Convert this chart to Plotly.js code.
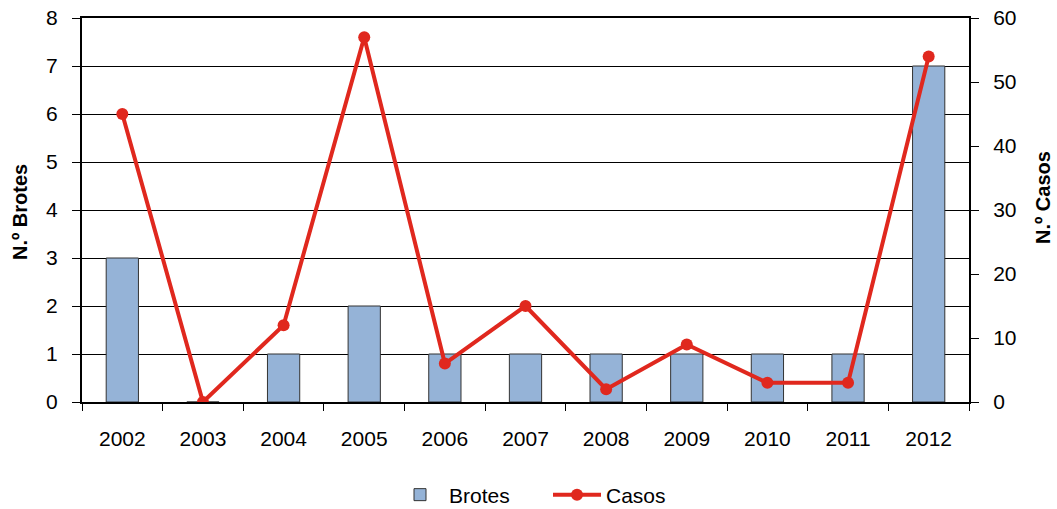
<!DOCTYPE html>
<html><head><meta charset="utf-8">
<script src="https://cdn.plot.ly/plotly-3.0.1.min.js"></script>
<style>html,body{margin:0;padding:0;background:#fff}#chart{width:1057px;height:509px}</style>
</head><body><div id="chart"></div>
<script>
const years = ['2002','2003','2004','2005','2006','2007','2008','2009','2010','2011','2012'];
const brotes = [3,0,1,2,1,1,1,1,1,1,7];
const casos = [45,0,12,57,6,15,2,9,3,3,54];
const leftTicks = [0,1,2,3,4,5,6,7,8];
const rightTicks = [0,10,20,30,40,50,60];

const fam = 'Liberation Sans, Arial, sans-serif';
const font = {family:fam, size:21, color:'#000'};
const titleFont = {family:fam, size:20, color:'#000', weight:'bold'};
const traces = [
  {type:'bar', x:years, y:brotes, name:'Brotes', width:0.4,
   marker:{color:'#95b3d7', line:{color:'#333', width:1}}, yaxis:'y'},
  {type:'scatter', mode:'lines+markers', x:years, y:casos, name:'Casos', yaxis:'y2',
   line:{color:'#e0281e', width:4}, marker:{color:'#e0281e', size:12}}
];
const layout = {
  width:1057, height:509, margin:{l:82, r:88, t:18, b:107, autoexpand:false},
  paper_bgcolor:'#fff', plot_bgcolor:'#fff', font:font, showlegend:true,
  xaxis:{type:'category', range:[-0.5,10.5], automargin:false, showline:true, linecolor:'#000', linewidth:2, mirror:true,
    ticks:'outside', tickson:'boundaries', ticklen:7, tickwidth:1, tickcolor:'#000',
    ticklabelstandoff:17, showgrid:false, zeroline:false, tickfont:font},
  yaxis:{range:[0,8], tickvals:leftTicks, automargin:false, showline:true, linecolor:'#000', linewidth:2,
    ticks:'outside', ticklen:8, tickcolor:'#000', showgrid:true, gridcolor:'#000', gridwidth:1,
    ticklabelstandoff:10, zeroline:false, tickfont:font},
  yaxis2:{range:[0,60], tickvals:rightTicks, automargin:false, overlaying:'y', side:'right', showline:true,
    linecolor:'#000', linewidth:2, ticks:'outside', ticklen:8, tickcolor:'#000', showgrid:false,
    ticklabelstandoff:10, zeroline:false, tickfont:font},
  annotations:[
    {text:'N.º Brotes', xref:'paper', yref:'paper', x:(20-82)/887, y:(402-212)/384,
     xanchor:'center', yanchor:'middle', textangle:-90, showarrow:false, font:titleFont},
    {text:'N.º Casos', xref:'paper', yref:'paper', x:(1043-82)/887, y:(402-198)/384,
     xanchor:'center', yanchor:'middle', textangle:-90, showarrow:false, font:titleFont}
  ],
  legend:{orientation:'h', x:(391-82)/887, xanchor:'left', y:-(495-402)/384, yanchor:'middle', font:font,
    itemwidth:48, entrywidth:94, entrywidthmode:'pixels', tracegroupgap:0}
};
Plotly.newPlot('chart', traces, layout, {displayModeBar:false, staticPlot:true});
</script></body></html>
